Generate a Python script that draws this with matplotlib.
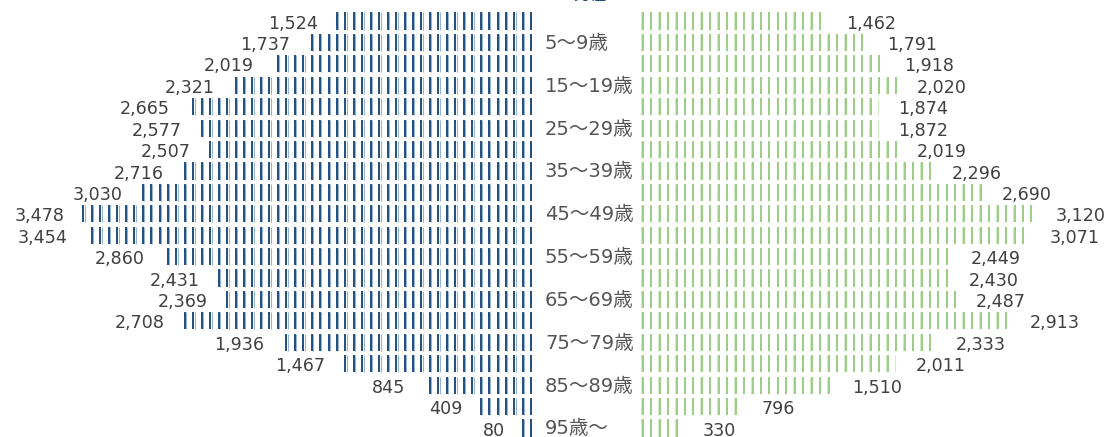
import matplotlib
matplotlib.use("Agg")
import matplotlib.pyplot as plt
import numpy as np

# 年齢階級別人口（男性・女性）
ages = ["0～4歳", "5～9歳", "10～14歳", "15～19歳", "20～24歳", "25～29歳",
        "30～34歳", "35～39歳", "40～44歳", "45～49歳", "50～54歳", "55～59歳",
        "60～64歳", "65～69歳", "70～74歳", "75～79歳", "80～84歳", "85～89歳",
        "90～94歳", "95歳～"]
male = [1524, 1737, 2019, 2321, 2665, 2577, 2507, 2716, 3030, 3478,
        3454, 2860, 2431, 2369, 2708, 1936, 1467, 845, 409, 80]
female = [1462, 1791, 1918, 2020, 1874, 1872, 2019, 2296, 2690, 3120,
          3071, 2449, 2430, 2487, 2913, 2333, 2011, 1510, 796, 330]

W, H = 1112, 437
MALE_DARK = "#1f4e7d"
MALE_LIGHT = "#9bb3cc"
FEM_DARK = "#9ccc84"
FEM_LIGHT = "#d3eac8"
TEXT = "#404040"

M_SCALE = 0.1295   # px per person
F_SCALE = 0.1265
M_RIGHT = 533
F_LEFT = 641
PITCH_PX = 8.45

fig = plt.figure(figsize=(W / 100, H / 100), dpi=100)

# row i center at 21 + 21.42*i px from top
y_top = -21 / 21.42
y_bot = (H - 21) / 21.42

ax_m = fig.add_axes([0, 0, M_RIGHT / W, 1])
ax_f = fig.add_axes([F_LEFT / W, 0, (W - F_LEFT) / W, 1])

ax_m.set_xlim(M_RIGHT / M_SCALE, 0)
ax_f.set_xlim(0, (W - F_LEFT) / F_SCALE)
for ax in (ax_m, ax_f):
    ax.set_ylim(y_bot, y_top)
    ax.axis("off")


def draw_stripes(ax, values, scale, dark, light):
    pitch = PITCH_PX / scale
    half = 0.40
    for i, v in enumerate(values):
        xs = np.arange(0, v, pitch)
        ax.vlines(xs + 0.3 / scale, i - half, i + half, color=light, lw=0.8)
        xd = xs + 1.7 / scale
        xd = xd[xd < v]
        ax.vlines(xd, i - half, i + half, color=dark, lw=1.4)


draw_stripes(ax_m, male, M_SCALE, MALE_DARK, MALE_LIGHT)
draw_stripes(ax_f, female, F_SCALE, FEM_DARK, FEM_LIGHT)

for i, v in enumerate(male):
    ax_m.text(v + 18 / M_SCALE, i + 0.12, f"{v:,}", ha="right", va="center",
              fontsize=12.6, color=TEXT)
for i, v in enumerate(female):
    ax_f.text(v + 20 / F_SCALE, i + 0.12, f"{v:,}", ha="left", va="center",
              fontsize=12.6, color=TEXT)

# 年齢ラベル（1行おき）
for i, a in enumerate(ages):
    if i % 2 == 1:
        fig.text(545 / W, 1 - (22 + 21.42 * i) / H, a, ha="left", va="center",
                 fontsize=14, color="#555555",
                 family=["DejaVu Sans", "Noto Sans CJK JP"])

# 上端で切れている見出し
fig.text(573 / W, 1 + 0.5 / H, "男性", ha="left", va="baseline", fontsize=12,
         color=MALE_DARK, family=["Noto Sans CJK JP", "DejaVu Sans"])

fig.savefig("out.png", dpi=100)
